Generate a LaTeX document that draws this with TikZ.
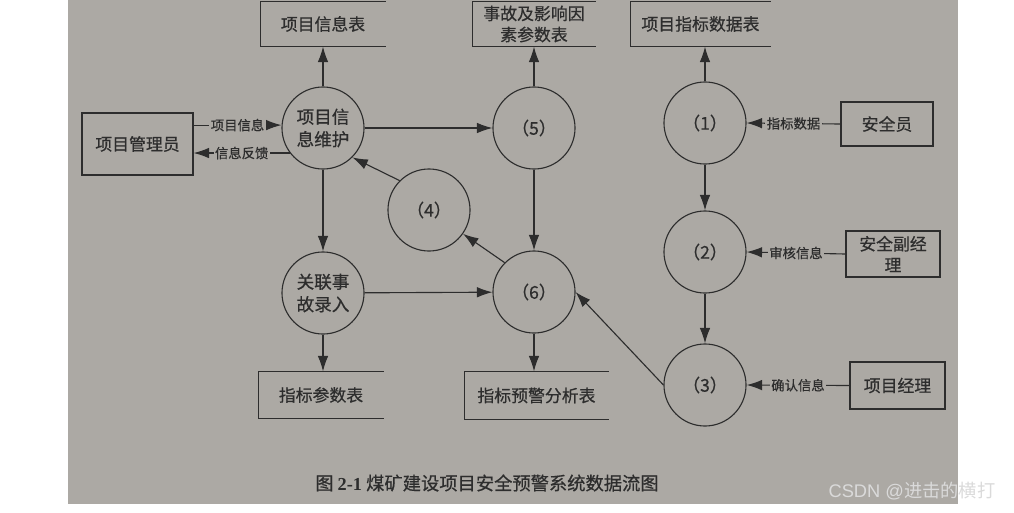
\documentclass[tikz,border=0pt]{standalone}
\usepackage{fontspec}
\setmainfont{Liberation Serif}
\setsansfont{Liberation Sans}
\newfontfamily\cjk[FakeBold=0.6]{Noto Sans CJK SC}
\newfontfamily\cjkplain{Noto Sans CJK SC}
\usetikzlibrary{arrows.meta}
\definecolor{paper}{RGB}{172,169,164}
\definecolor{ink}{RGB}{45,45,45}
\newcommand\procno[1]{{\cjk（}#1{\cjk）}}
\begin{document}
\begin{tikzpicture}[x=0.025cm,y=-0.025cm,line width=0.8pt,
  every node/.style={text=ink,font=\cjk\fontsize{12}{15}\selectfont},
  proc/.style={draw=ink,circle,minimum size=2.05cm,inner sep=0pt,align=center,
    font=\cjk\fontsize{12.5}{16}\selectfont},
  entity/.style={draw=ink,inner sep=0pt,align=center},
  store/.style={inner sep=0pt,align=center},
  flow/.style={draw=ink,-{Latex[length=11pt,width=7.5pt]}},
  flowlabel/.style={fill=paper,inner sep=1pt,font=\cjk\fontsize{9.5}{10}\selectfont}]
\useasboundingbox (0,0) rectangle (1014,513);
\fill[paper] (68,0) rectangle (958,504);

% data stores (open on the right)
\node[store,minimum width=3.1cm,minimum height=1.1cm] (infotab) at (323,24) {项目信息表};
\node[store,minimum width=3.05cm,minimum height=1.1cm] (acctab) at (534,24) {事故及影响因\\素参数表};
\node[store,minimum width=3.475cm,minimum height=1.1cm] (idxtab) at (700.5,24) {项目指标数据表};
\node[store,minimum width=3.1cm,minimum height=1.15cm] (partab) at (321,395) {指标参数表};
\node[store,minimum width=3.575cm,minimum height=1.175cm] (warntab) at (536.5,395.5) {指标预警分析表};
\foreach \s in {infotab,acctab,idxtab,partab,warntab}
  \draw[ink] (\s.north east) -- (\s.north west) -- (\s.south west) -- (\s.south east);

% external entities
\node[entity,minimum width=2.775cm,minimum height=1.55cm] (mgr) at (137.5,144) {项目管理员};
\node[entity,minimum width=2.3cm,minimum height=1.1cm] (safer) at (887,124) {安全员};
\node[entity,minimum width=2.35cm,minimum height=1.15cm] (vicemgr) at (893,254) {安全副经\\理};
\node[entity,minimum width=2.375cm,minimum height=1.175cm] (pm) at (897.5,385.5) {项目经理};

% processes
\node[proc] (info) at (323,128) {项目信\\息维护};
\node[proc] (rel) at (323,293) {关联事\\故录入};
\node[proc] (p4) at (429,210) {\procno{4}};
\node[proc] (p5) at (534,128) {\procno{5}};
\node[proc] (p6) at (534,292) {\procno{6}};
\node[proc] (p1) at (705,123) {\procno{1}};
\node[proc] (p2) at (705,252) {\procno{2}};
\node[proc] (p3) at (705,385) {\procno{3}};

% flows
\path[flow] (mgr.east |- info.176) -- node[flowlabel] {项目信息} (info.176);
\path[flow] (info.217) -- node[flowlabel] {信息反馈} (mgr.east |- info.217);
\path[flow] (info) -- (infotab);
\path[flow] (info) -- (p5);
\path[flow] (info) -- (rel);
\path[flow] (p5) -- (acctab);
\path[flow] (p5) -- (p6);
\path[flow] (rel.south) -- (rel.south |- partab.north);
\path[flow] (rel) -- (p6);
\path[flow] (p6.south) -- (p6.south |- warntab.north);
\path[flow] (p6.north west) -- (p4.-35);
\path[flow] (p4.north west) -- (info.south east);
\path[flow] (p1.north) -- (p1.north |- idxtab.south);
\path[flow] (p1) -- (p2);
\path[flow] (p2) -- (p3);
\path[flow] (p3.west) -- (p6.east);
\path[flow] (safer.west) -- node[flowlabel] {指标数据} (p1.east);
\path[flow] (vicemgr.west) -- node[flowlabel] {审核信息} (p2.east);
\path[flow] (pm.west) -- node[flowlabel] {确认信息} (p3.east);

\node[font=\cjk\fontsize{13}{15}\selectfont] (caption) at (487,483)
  {图 {\rmfamily\bfseries 2-1} 煤矿建设项目安全预警系统数据流图};
\node[font=\sffamily\fontsize{13}{15}\selectfont,text={rgb,255:red,218;green,218;blue,218}] (wm) at (912,491)
  {CSDN @{\cjkplain 进击的横打}};
\end{tikzpicture}
\end{document}
